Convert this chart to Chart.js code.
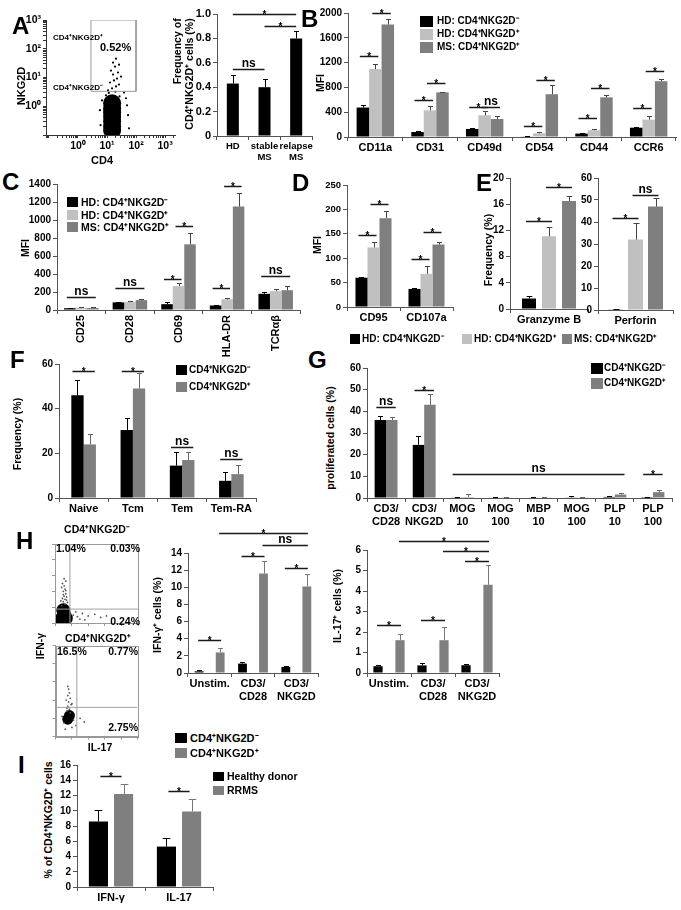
<!DOCTYPE html>
<html>
<head>
<meta charset="utf-8">
<script src="https://cdn.jsdelivr.net/npm/chart.js@4.4.1/dist/chart.umd.min.js"></script>
<style>
body { margin: 0; background: #fff; }
#stage { position: relative; width: 681px; height: 910px; overflow: hidden; background: #fff;
  font-family: "Liberation Sans", Arial, sans-serif; font-weight: bold; color: #000; }
#stage canvas { position: absolute; }
.t { position: absolute; white-space: nowrap; line-height: 1; }
.sq { position: absolute; }
</style>
</head>
<body>
<div id="stage"></div>
<script>
// ---------- data ----------

// A: flow plot (log units) and frequency bars
const aFlowGateX = [2.8, 2.8, 100, 100, 2.8]
const aFlowGateY = [3.3, 1000, 1000, 3.3, 3.3]
const aFlowCoreX = [15, 15, 15, 15, 15, 15, 15]
const aFlowCoreY = [1.27, 0.85, 0.62, 0.42, 0.30, 0.2, 0.15]
const aFlowDotX = [14.9, 20.4, 10.8, 25.9, 17.4, 12.7, 22.1, 16.1, 23.9, 13.7, 18.9, 25.9, 16.1, 20.4, 30.4, 9.2, 38.6, 45, 6.7, 49, 5.7, 53, 6.0, 57, 11.5, 19.5, 27, 8.5]
const aFlowDotY = [4.2, 4.9, 3.6, 5.7, 7.9, 6.7, 9.2, 12.7, 14.9, 17.4, 24, 28, 33, 45, 10.8, 2.4, 3.0, 1.9, 1.6, 1.08, 0.73, 0.49, 0.22, 0.17, 2.9, 3.2, 2.2, 1.3]
const flowDecades = [1, 10, 100, 1000]
const flowDecadeLabels = ['10⁰', '10¹', '10²', '10³']

const aCats = ['HD', ['stable', 'MS'], ['relapse', 'MS']]
const aFreq = [0.43, 0.40, 0.80]
const aFreqErr = [0.07, 0.065, 0.06]
const aSig = [[0, 0, 1, 0, 0.55, 'ns'], [0, 0, 2, 0, 1.0, '*'], [1, 0, 2, 0, 0.9, '*']]

// B
const bCats = ['CD11a', 'CD31', 'CD49d', 'CD54', 'CD44', 'CCR6']
const bHdNeg = [475, 80, 130, 10, 55, 150]
const bHdNegErr = [45, 15, 20, 4, 6, 15]
const bHdPos = [1095, 430, 350, 60, 110, 280]
const bHdPosErr = [80, 75, 70, 20, 20, 60]
const bMsPos = [1815, 720, 290, 690, 640, 900]
const bMsPosErr = [95, 8, 45, 150, 40, 30]
const bSig = [[0, 0, 0, 1, 1300, '*'], [0, 1, 0, 2, 2000, '*'], [1, 0, 1, 1, 600, '*'], [1, 1, 1, 2, 870, '*'],
  [2, 0, 2, 1, 480, '*'], [2, 1, 2, 2, 480, 'ns'], [3, 0, 3, 1, 170, '*'], [3, 1, 3, 2, 920, '*'],
  [4, 0, 4, 1, 310, '*'], [4, 1, 4, 2, 790, '*'], [5, 0, 5, 1, 460, '*'], [5, 1, 5, 2, 1060, '*']]

// C
const cCats = ['CD25', 'CD28', 'CD69', 'HLA-DR', 'TCRαβ']
const cHdNeg = [20, 85, 65, 50, 180]
const cHdNegErr = [5, 5, 20, 5, 20]
const cHdPos = [25, 90, 265, 120, 210]
const cHdPosErr = [5, 8, 35, 10, 25]
const cMsPos = [22, 110, 730, 1150, 220]
const cMsPosErr = [8, 8, 125, 150, 50]
const cSig = [[0, 0, 0, 2, 150, 'ns'], [1, 0, 1, 2, 240, 'ns'], [2, 0, 2, 1, 350, '*'], [2, 1, 2, 2, 930, '*'],
  [3, 0, 3, 1, 240, '*'], [3, 1, 3, 2, 1380, '*'], [4, 0, 4, 2, 375, 'ns']]

// D
const dCats = ['CD95', 'CD107a']
const dHdNeg = [60, 37]
const dHdNegErr = [2, 1]
const dHdPos = [122, 68]
const dHdPosErr = [12, 17]
const dMsPos = [182, 128]
const dMsPosErr = [15, 6]
const dSig = [[0, 0, 0, 1, 148, '*'], [0, 1, 0, 2, 211, '*'], [1, 0, 1, 1, 98, '*'], [1, 1, 1, 2, 153, '*']]

// E
const eGzmCats = ['Granzyme B']
const eGzmHdNeg = [1.6], eGzmHdNegErr = [0.4]
const eGzmHdPos = [11.1], eGzmHdPosErr = [1.4]
const eGzmMsPos = [16.5], eGzmMsPosErr = [0.8]
const eGzmSig = [[0, 0, 0, 1, 13.5, '*'], [0, 1, 0, 2, 18.6, '*']]
const ePrfCats = ['Perforin']
const ePrfHdNeg = [0.3], ePrfHdNegErr = [0.1]
const ePrfHdPos = [32], ePrfHdPosErr = [7.5]
const ePrfMsPos = [47], ePrfMsPosErr = [3.8]
const ePrfSig = [[0, 0, 0, 1, 42, '*'], [0, 1, 0, 2, 52.5, 'ns']]

// F
const fCats = ['Naive', 'Tcm', 'Tem', 'Tem-RA']
const fNeg = [46, 30.5, 14.5, 7.7]
const fNegErr = [7, 5.5, 6, 4]
const fPos = [24, 49, 17, 10.7]
const fPosErr = [4.5, 7, 3.5, 4]
const fSig = [[0, 0, 0, 1, 57, '*'], [1, 0, 1, 1, 57, '*'], [2, 0, 2, 1, 23, 'ns'], [3, 0, 3, 1, 17.5, 'ns']]

// G
const gCats = [['CD3/', 'CD28'], ['CD3/', 'NKG2D'], ['MOG', '10'], ['MOG', '100'], ['MBP', '10'], ['MOG', '100'], ['PLP', '10'], ['PLP', '100']]
const gNeg = [36, 24.5, 0.3, 0.2, 0.2, 0.3, 0.5, 0.4]
const gNegErr = [2, 4, 0.3, 0.2, 0.3, 0.5, 0.3, 0.2]
const gPos = [36, 43, 0.4, 0.3, 0.2, 0.2, 1.6, 2.7]
const gPosErr = [1.3, 5, 1.5, 0.3, 0.2, 0.2, 0.8, 1]
const gSig = [[0, 0, 0, 1, 42, 'ns'], [1, 0, 1, 1, 50, '*'], [2, 0, 6, 1, 11, 'ns'], [7, 0, 7, 1, 11, '*']]

// H: flow quadrants (arbitrary linear units 0-100) and bars
const hGate1 = [18, 17.6]
const hFlow1CoreX = [8, 11, 10, 13]
const hFlow1CoreY = [5, 10.6, 16, 6]
const hFlow1DotX = [8, 12, 10, 14, 9, 11, 13, 10, 12, 11, 9, 13, 15, 7, 14, 10, 12, 8, 11, 13, 22, 27, 33, 40, 48, 55, 25, 30, 36, 62]
const hFlow1DotY = [22, 24, 27, 29, 31, 34, 37, 40, 43, 47, 50, 53, 26, 28, 33, 36, 30, 45, 56, 41, 10, 8, 12, 9, 11, 7, 14, 5, 4, 9]
const hGate2 = [26, 32]
const hFlow2CoreX = [15, 17]
const hFlow2CoreY = [19, 23]
const hFlow2DotX = [14, 17, 15, 19, 16, 13, 18, 15, 17, 14, 16, 20, 15, 18, 22, 10, 25, 8, 30, 20, 12, 35]
const hFlow2DotY = [28, 30, 33, 35, 38, 40, 42, 45, 48, 31, 52, 36, 55, 26, 18, 15, 12, 22, 20, 10, 8, 16]

const hCats = ['Unstim.', ['CD3/', 'CD28'], ['CD3/', 'NKG2D']]
const hIfnNeg = [0.2, 1.1, 0.7]
const hIfnNegErr = [0.1, 0.15, 0.1]
const hIfnPos = [2.4, 11.6, 10.1]
const hIfnPosErr = [0.55, 1.5, 1.45]
const hIfnSig = [[0, 0, 0, 1, 3.85, '*'], [1, 0, 1, 1, 13.7, '*'], [2, 0, 2, 1, 12.3, '*'], [1, 1, 2, 1, 14.9, 'ns'], [0, 1, 2, 1, 16.3, '*']]
const hIl17Neg = [0.33, 0.37, 0.38]
const hIl17NegErr = [0.08, 0.1, 0.07]
const hIl17Pos = [1.6, 1.6, 4.3]
const hIl17PosErr = [0.3, 0.65, 0.95]
const hIl17Sig = [[0, 0, 0, 1, 2.33, '*'], [1, 0, 1, 1, 2.58, '*'], [0, 1, 2, 1, 6.45, '*'], [1, 1, 2, 1, 5.96, '*'], [2, 0, 2, 1, 5.47, '*']]

// I
const iCats = ['IFN-γ', 'IL-17']
const iHd = [8.6, 5.3]
const iHdErr = [1.5, 1.1]
const iRrms = [12.2, 9.9]
const iRrmsErr = [1.3, 1.7]
const iSig = [[0, 0, 0, 1, 14.6, '*'], [1, 0, 1, 1, 12.6, '*']]

// ---------- drawing ----------
const stage = document.getElementById('stage')
const K = '#000000', L = '#c0c0c0', D = '#7f7f7f'
const FONT = '"Liberation Sans", Arial, sans-serif'
Chart.defaults.font.family = FONT
Chart.defaults.font.weight = 'bold'
Chart.defaults.font.size = 10
Chart.defaults.color = '#000'

function canvasAt(l, t, r, b, m) {
  const c = document.createElement('canvas')
  const w = r - l + m[0] + m[2], h = b - t + m[1] + m[3]
  c.width = w; c.height = h
  c.style.left = (l - m[0]) + 'px'; c.style.top = (t - m[1]) + 'px'
  c.style.width = w + 'px'; c.style.height = h + 'px'
  stage.appendChild(c)
  return c
}

// upper error whiskers
const errBars = {
  id: 'errBars',
  afterDatasetsDraw(chart) {
    const ctx = chart.ctx, ys = chart.scales.y
    ctx.save()
    chart.data.datasets.forEach((ds, i) => {
      if (!ds.err) return
      chart.getDatasetMeta(i).data.forEach((bar, j) => {
        const e = ds.err[j]
        if (!e) return
        const x = Math.round(bar.x) + 0.5
        const y1 = Math.round(ys.getPixelForValue(ds.data[j] + e)) + 0.5
        const cap = Math.max(2.5, bar.width * 0.2)
        ctx.strokeStyle = ds.errColor
        ctx.lineWidth = 1
        ctx.beginPath()
        ctx.moveTo(x, bar.y); ctx.lineTo(x, y1)
        ctx.moveTo(x - cap, y1); ctx.lineTo(x + cap, y1)
        ctx.stroke()
      })
    })
    ctx.restore()
  }
}

// significance bars
function sigLines(items, ext) {
  return {
    id: 'sig',
    afterDatasetsDraw(chart) {
      const ctx = chart.ctx, ys = chart.scales.y
      ctx.save()
      items.forEach(([c0, d0, c1, d1, v, t]) => {
        const b0 = chart.getDatasetMeta(d0).data[c0]
        const b1 = chart.getDatasetMeta(d1).data[c1]
        const x0 = b0.x - ext, x1 = b1.x + ext
        const y = Math.round(ys.getPixelForValue(v)) + 0.5
        ctx.strokeStyle = '#1a1a1a'
        ctx.lineWidth = 1.5
        ctx.beginPath(); ctx.moveTo(x0, y); ctx.lineTo(x1, y); ctx.stroke()
        ctx.fillStyle = '#000'
        ctx.textAlign = 'center'
        if (t === '*') {
          ctx.font = 'bold 10px ' + FONT
          ctx.fillText(t, (x0 + x1) / 2, y + 3)
        } else {
          ctx.font = 'bold 12px ' + FONT
          ctx.fillText(t, (x0 + x1) / 2, y - 3)
        }
      })
      ctx.restore()
    }
  }
}

function ds(data, err, col, ecol, cp, bp) {
  return { data, err, backgroundColor: col, errColor: ecol, categoryPercentage: cp, barPercentage: bp, borderWidth: 0 }
}

function bars(area, m, cats, sets, y, sig, ext, o) {
  o = o || {}
  const c = canvasAt(area[0], area[1], area[2], area[3], m)
  const ax = '#555'
  return new Chart(c, {
    type: 'bar',
    data: { labels: cats, datasets: sets },
    options: {
      responsive: false, animation: false, devicePixelRatio: 1,
      layout: { padding: { left: 0, top: m[1], right: m[2], bottom: 0 } },
      plugins: { legend: { display: false }, tooltip: { enabled: false } },
      scales: {
        x: {
          grid: { offset: true, drawOnChartArea: false, tickLength: 4, color: ax },
          border: { color: ax },
          ticks: { autoSkip: false, padding: 1, minRotation: o.rot || 0, maxRotation: o.rot || 0,
            font: { size: o.cat || 11, lineHeight: 1.15 } },
          afterFit: s => { s.height = m[3] }
        },
        y: {
          min: 0, max: y[0],
          grid: { drawOnChartArea: false, tickLength: 4, color: ax },
          border: { color: ax },
          ticks: { stepSize: y[1], padding: 2, font: { size: o.tick || 10 }, callback: o.yCb || (v => v) },
          afterFit: s => { s.width = m[0] }
        }
      }
    },
    plugins: [errBars, sigLines(sig, ext)]
  })
}

function pts(xs, ys) { return xs.map((x, i) => ({ x, y: ys[i] })) }

// frame round a flow plot
const frame = {
  id: 'frame',
  afterDraw(chart) {
    const a = chart.chartArea, ctx = chart.ctx
    ctx.save(); ctx.strokeStyle = '#999'; ctx.lineWidth = 1
    ctx.strokeRect(Math.round(a.left) + 0.5, Math.round(a.top) + 0.5, Math.round(a.right - a.left), Math.round(a.bottom - a.top))
    ctx.restore()
  }
}

// panel A flow plot
function flowA() {
  const c = canvasAt(46, 19, 175, 135, [26, 8, 16, 18])
  const all = []
  ;[0.01, 0.1, 1, 10, 100, 1000].forEach(d => { for (let k = 1; k < 10; k++) all.push(d * k) })
  const lab = v => { const i = flowDecades.indexOf(v); return i < 0 ? '' : flowDecadeLabels[i] }
  const scale = (min, max, w) => ({
    type: 'logarithmic', min, max,
    grid: { drawOnChartArea: false, tickLength: 3, color: '#333' },
    border: { color: '#333' },
    ticks: { autoSkip: false, padding: 2, minRotation: 0, maxRotation: 0, font: { size: 10.5 }, callback: lab },
    afterBuildTicks: s => { s.ticks = all.filter(v => v >= min && v <= max).map(v => ({ value: v })) },
    afterFit: s => { if (w) s.width = w; else s.height = 18 }
  })
  new Chart(c, {
    type: 'scatter',
    data: { datasets: [
      { data: pts(aFlowGateX, aFlowGateY), showLine: true, borderColor: '#9a9a9a', borderWidth: 1, pointRadius: 0 },
      { data: pts(aFlowDotX, aFlowDotY), pointRadius: 1.1, backgroundColor: '#000', borderWidth: 0 },
      { data: pts(aFlowCoreX, aFlowCoreY), pointRadius: 9, backgroundColor: '#000', borderWidth: 0, clip: 0 }
    ] },
    options: {
      responsive: false, animation: false, devicePixelRatio: 1,
      layout: { padding: { left: 0, top: 8, right: 16, bottom: 0 } },
      plugins: { legend: { display: false }, tooltip: { enabled: false } },
      scales: { x: scale(0.079, 2200, 0), y: scale(0.1, 1000, 26) }
    }
  })
}

// panel H flow plots
function flowH(area, gate, coreX, coreY, dotX, dotY, coreR) {
  const c = canvasAt(area[0], area[1], area[2], area[3], [5, 3, 3, 5])
  const ax = (w) => ({
    min: 0, max: 100,
    grid: { drawOnChartArea: false, tickLength: 3, color: '#999' },
    border: { color: '#999' },
    ticks: { stepSize: 20, callback: () => '', font: { size: 1 } },
    afterFit: s => { if (w) s.width = 5; else s.height = 5 }
  })
  new Chart(c, {
    type: 'scatter',
    data: { datasets: [
      { data: [{ x: gate[0], y: 0 }, { x: gate[0], y: 100 }], showLine: true, borderColor: '#a0a0a0', borderWidth: 1, pointRadius: 0 },
      { data: [{ x: 0, y: gate[1] }, { x: 100, y: gate[1] }], showLine: true, borderColor: '#a0a0a0', borderWidth: 1, pointRadius: 0 },
      { data: pts(dotX, dotY), pointRadius: 0.9, backgroundColor: '#555', borderWidth: 0 },
      { data: pts(coreX, coreY), pointRadius: coreR, backgroundColor: '#000', borderWidth: 0, clip: 0 }
    ] },
    options: {
      responsive: false, animation: false, devicePixelRatio: 1,
      layout: { padding: { left: 0, top: 3, right: 3, bottom: 0 } },
      plugins: { legend: { display: false }, tooltip: { enabled: false } },
      scales: { x: ax(0), y: ax(1) }
    },
    plugins: [frame]
  })
}

flowA()
bars([217, 14, 312, 136], [26, 14, 8, 30], aCats, [ds(aFreq, aFreqErr, K, K, 1, 0.38)], [1, 0.2], aSig, 0,
  { tick: 11, cat: 9.5, yCb: v => v === 0 ? '0' : v.toFixed(1) })

bars([348, 13, 676, 137], [28, 10, 4, 22], bCats, [
  ds(bHdNeg, bHdNegErr, K, K, 0.685, 1), ds(bHdPos, bHdPosErr, L, '#444', 0.685, 1), ds(bMsPos, bMsPosErr, D, '#444', 0.685, 1)
], [2000, 400], bSig, 3)

bars([57, 184, 300, 310], [28, 8, 8, 50], cCats, [
  ds(cHdNeg, cHdNegErr, K, K, 0.71, 1), ds(cHdPos, cHdPosErr, L, '#444', 0.71, 1), ds(cMsPos, cMsPosErr, D, '#444', 0.71, 1)
], [1400, 200], cSig, 3, { rot: 90 })

bars([347, 185, 453, 307], [25, 8, 6, 18], dCats, [
  ds(dHdNeg, dHdNegErr, K, K, 0.68, 1), ds(dHdPos, dHdPosErr, L, '#444', 0.68, 1), ds(dMsPos, dMsPosErr, D, '#444', 0.68, 1)
], [250, 50], dSig, 3, { tick: 9.5 })

bars([510, 178, 588, 309], [20, 8, 4, 18], eGzmCats, [
  ds(eGzmHdNeg, eGzmHdNegErr, K, K, 0.77, 0.7), ds(eGzmHdPos, eGzmHdPosErr, L, '#444', 0.77, 0.7), ds(eGzmMsPos, eGzmMsPosErr, D, '#444', 0.77, 0.7)
], [20, 4], eGzmSig, 3)

bars([598, 178, 673, 310], [20, 8, 6, 18], ePrfCats, [
  ds(ePrfHdNeg, ePrfHdNegErr, K, K, 0.8, 0.75), ds(ePrfHdPos, ePrfHdPosErr, L, '#444', 0.8, 0.75), ds(ePrfMsPos, ePrfMsPosErr, D, '#444', 0.8, 0.75)
], [60, 10], ePrfSig, 3)

bars([59, 364, 256, 498], [22, 10, 6, 20], fCats, [
  ds(fNeg, fNegErr, K, K, 0.5, 1), ds(fPos, fPosErr, D, '#666', 0.5, 1)
], [60, 20], fSig, 5)

bars([367, 368, 672, 498], [24, 10, 6, 32], gCats, [
  ds(gNeg, gNegErr, K, K, 0.6, 1), ds(gPos, gPosErr, D, '#666', 0.6, 1)
], [60, 10], gSig, 4)

flowH([53, 540, 142, 625], hGate1, hFlow1CoreX, hFlow1CoreY, hFlow1DotX, hFlow1DotY, 7)
flowH([55, 643, 140, 737], hGate2, hFlow2CoreX, hFlow2CoreY, hFlow2DotX, hFlow2DotY, 5.5)

bars([188, 553, 318, 673], [22, 28, 6, 30], hCats, [
  ds(hIfnNeg, hIfnNegErr, K, K, 0.97, 0.42), ds(hIfnPos, hIfnPosErr, D, '#777', 0.97, 0.42)
], [14, 2], hIfnSig, 1)

bars([367, 550, 499, 673], [16, 22, 6, 30], hCats, [
  ds(hIl17Neg, hIl17NegErr, K, K, 1, 0.42), ds(hIl17Pos, hIl17PosErr, D, '#777', 1, 0.42)
], [6, 1], hIl17Sig, 1)

bars([77, 765, 213, 887], [20, 8, 6, 18], iCats, [
  ds(iHd, iHdErr, K, K, 0.74, 0.76), ds(iRrms, iRrmsErr, D, '#777', 0.74, 0.76)
], [16, 2], iSig, -2)

// ---------- text ----------
function T(s, x, y, o) {
  o = o || {}
  const d = document.createElement('div')
  d.className = 't'
  d.innerHTML = s
  d.style.fontSize = (o.s || 10.5) + 'px'
  d.style.left = x + 'px'
  d.style.top = y + 'px'
  if (o.rot) d.style.transform = 'translate(-50%,-50%) rotate(-90deg)'
  else d.style.transform = 'translate(' + (o.a === 'c' ? '-50%' : o.a === 'r' ? '-100%' : '0') + ',-50%)'
  if (o.align) d.style.textAlign = o.align
  if (o.lh) d.style.lineHeight = o.lh + 'px'
  stage.appendChild(d)
  return d
}
function sq(x, cy, w, h, col) {
  const d = document.createElement('div')
  d.className = 'sq'
  d.style.cssText = 'left:' + x + 'px;top:' + (cy - h / 2) + 'px;width:' + w + 'px;height:' + h + 'px;background:' + col
  stage.appendChild(d)
}
function legend(x, tx, ys, w, h, cols, labels, s) {
  ys.forEach((y, i) => { sq(x, y, w, h, cols[i]); T(labels[i], tx, y, { s }) })
}

const NEG = 'CD4⁺NKG2D⁻', POS = 'CD4⁺NKG2D⁺'
const LET = 24
T('A', 12, 26, { s: LET }); T('B', 301, 19, { s: LET }); T('C', 2, 182, { s: LET })
T('D', 292, 183, { s: LET }); T('E', 476, 183, { s: LET }); T('F', 10, 360, { s: LET })
T('G', 308, 360, { s: LET }); T('H', 16, 541, { s: LET }); T('I', 18, 765, { s: LET })

// A
T(POS, 53, 38, { s: 8 }); T('0.52%', 100, 47, { s: 11 }); T(NEG, 53, 88, { s: 8 })
T('NKG2D', 21, 86, { s: 11, rot: 1 }); T('CD4', 102, 160, { s: 11, a: 'c' })
T('Frequency of<br>' + POS + ' cells (%)', 183, 74, { s: 10.5, rot: 1, align: 'right', lh: 12 })

// B
T('MFI', 320, 83, { s: 10.5, rot: 1 })
legend(420, 437, [21, 34, 47], 13, 11, [K, L, D], ['HD: ' + NEG, 'HD: ' + POS, 'MS: ' + POS], 10)

// C
T('MFI', 25, 248, { s: 10.5, rot: 1 })
legend(67, 81, [202, 214.5, 227], 11, 10, [K, L, D], ['HD: ' + NEG, 'HD: ' + POS, 'MS: ' + POS], 10.5)

// D / E
T('MFI', 317, 245, { s: 10.5, rot: 1 })
T('Frequency (%)', 488, 250, { s: 10.5, rot: 1 })
sq(350, 339, 10, 10, K); T('HD: ' + NEG, 362, 339, { s: 10 })
sq(462, 339, 10, 10, L); T('HD: ' + POS, 474, 339, { s: 10 })
sq(562, 339, 10, 10, D); T('MS: ' + POS, 574, 339, { s: 10 })

// F
T('Frequency (%)', 17, 434, { s: 10.5, rot: 1 })
legend(176, 189, [370, 387], 11, 10, [K, D], [NEG, POS], 10)

// G
T('proliferated cells (%)', 330, 438, { s: 10.5, rot: 1 })
legend(591, 604, [368, 383], 12, 11, [K, D], [NEG, POS], 10)

// H
T(NEG, 97, 529, { s: 10.5, a: 'c' }); T(POS, 98, 638, { s: 10.5, a: 'c' })
T('1.04%', 56, 548, { s: 10.5 }); T('0.03%', 140, 548, { s: 10.5, a: 'r' }); T('0.24%', 140, 621, { s: 10.5, a: 'r' })
T('16.5%', 57, 651, { s: 10.5 }); T('0.77%', 138, 651, { s: 10.5, a: 'r' }); T('2.75%', 138, 727, { s: 10.5, a: 'r' })
T('IFN-γ', 40, 646, { s: 10.5, rot: 1 }); T('IL-17', 100, 747, { s: 10.5, a: 'c' })
T('IFN-γ⁺ cells (%)', 157, 615, { s: 10.5, rot: 1 })
T('IL-17⁺ cells (%)', 337, 606, { s: 10.5, rot: 1 })
legend(175, 190, [738, 753], 12, 10, [K, D], [NEG, POS], 11)

// I
T('% of ' + POS + ' cells', 48, 820, { s: 10.5, rot: 1 })
legend(213, 227, [776, 790], 11, 9, [K, D], ['Healthy donor', 'RRMS'], 10.5)
</script>
</body>
</html>
